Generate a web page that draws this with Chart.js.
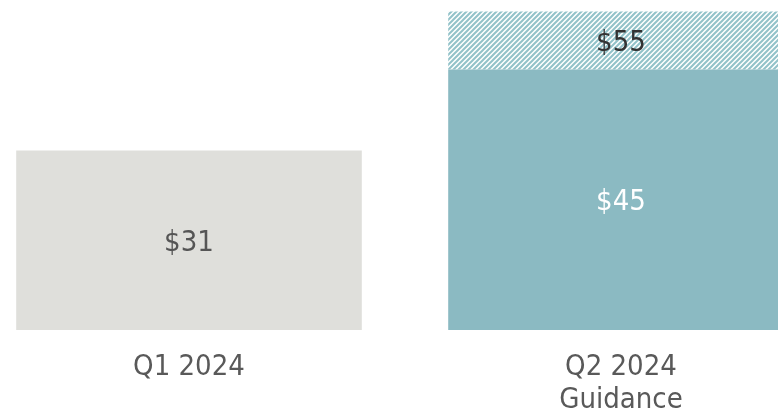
<!DOCTYPE html>
<html>
<head>
<meta charset="utf-8">
<script src="https://cdn.jsdelivr.net/npm/chart.js@4/dist/chart.umd.min.js"></script>
<style>
  html, body { margin: 0; padding: 0; background: #fff; overflow: hidden; }
  #wrap { position: absolute; left: -27px; top: 0; width: 864px; height: 412px; }
</style>
</head>
<body>
<div id="wrap"><canvas id="revChart"></canvas></div>
<script>
// revenue ($M) - actual quarter vs guidance range
const categories = [['Q1 2024'], ['Q2 2024', 'Guidance']];
const baseValues = [31, 45];      // actual / low end of guidance
const rangeValues = [null, 10];   // spread up to the high end (45 -> 55)
const baseColors = ['#dfdfdb', '#8bbac2'];
const labelColors = ['#555555', '#ffffff'];

const FONT = '"Liberation Sans Narrow", "DejaVu Sans Condensed", "Liberation Sans", sans-serif';

// diagonal hatch fill for the guidance range
function makeHatch() {
  const s = 5;
  const c = document.createElement('canvas');
  c.width = s; c.height = s;
  const g = c.getContext('2d');
  g.fillStyle = '#ffffff';
  g.fillRect(0, 0, s, s);
  g.strokeStyle = '#92c2c9';
  g.lineWidth = 2;
  g.beginPath();
  g.moveTo(-1, s + 1); g.lineTo(s + 1, -1);
  g.moveTo(-s - 1, s + 1); g.lineTo(s + 1, -s - 1);
  g.moveTo(-1, 2 * s + 1); g.lineTo(2 * s + 1, -1);
  g.stroke();
  return g.createPattern(c, 'repeat');
}

// value labels drawn in the middle of each bar segment
const valueLabels = {
  id: 'valueLabels',
  afterDatasetsDraw(chart) {
    const ctx = chart.ctx;
    ctx.save();
    ctx.font = '29px ' + FONT;
    ctx.textAlign = 'center';
    ctx.textBaseline = 'middle';
    chart.getDatasetMeta(0).data.forEach((bar, i) => {
      ctx.fillStyle = labelColors[i];
      ctx.fillText('$' + baseValues[i], bar.x, (bar.y + bar.base) / 2 + 3);
    });
    chart.getDatasetMeta(1).data.forEach((bar, i) => {
      if (rangeValues[i] == null) return;
      ctx.fillStyle = '#333333';
      ctx.fillText('$' + (baseValues[i] + rangeValues[i]), bar.x, (bar.y + bar.base) / 2 + 3);
    });
    ctx.restore();
  }
};

new Chart(document.getElementById('revChart'), {
  type: 'bar',
  data: {
    labels: categories,
    datasets: [
      { data: baseValues, backgroundColor: baseColors, categoryPercentage: 1, barPercentage: 0.8 },
      { data: rangeValues, backgroundColor: makeHatch(), categoryPercentage: 1, barPercentage: 0.8 }
    ]
  },
  options: {
    responsive: true,
    maintainAspectRatio: false,
    animation: false,
    layout: { padding: 0 },
    plugins: { legend: { display: false }, tooltip: { enabled: false } },
    scales: {
      x: {
        stacked: true,
        grid: { display: false },
        border: { display: false },
        ticks: { color: '#595959', font: { family: FONT, size: 29, lineHeight: 1.14 }, padding: 13 },
        afterFit(scale) { scale.height = 82; }
      },
      y: {
        stacked: true,
        min: 0,
        max: 57,
        display: false
      }
    }
  },
  plugins: [valueLabels]
});
</script>
</body>
</html>
